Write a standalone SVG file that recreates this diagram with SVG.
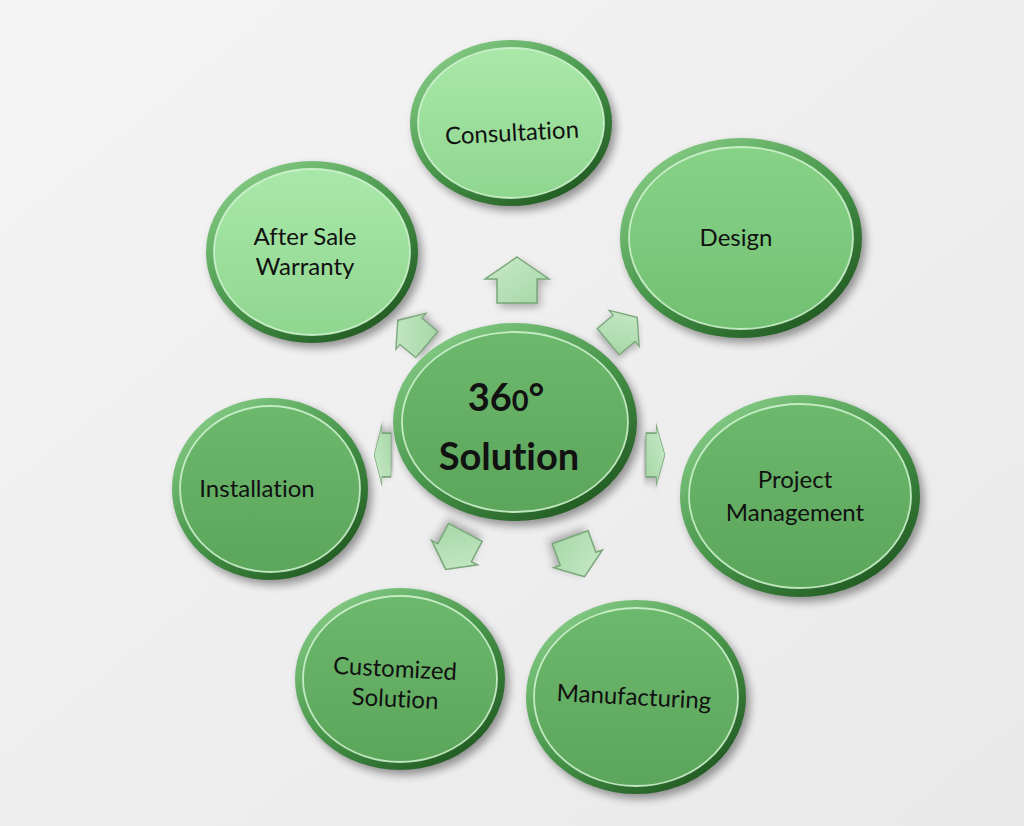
<svg xmlns="http://www.w3.org/2000/svg" width="1024" height="826" viewBox="0 0 1024 826">
<defs>
<linearGradient id="bg" x1="0" y1="0" x2="1" y2="1">
<stop offset="0" stop-color="#f4f4f4"/><stop offset="1" stop-color="#e9e9e9"/>
</linearGradient>
<linearGradient id="ring" x1="0.15" y1="0.05" x2="0.85" y2="0.95">
<stop offset="0" stop-color="#86cc86"/><stop offset="0.5" stop-color="#47964a"/><stop offset="1" stop-color="#1f561f"/>
</linearGradient>
<linearGradient id="fillLight" x1="0" y1="0" x2="0" y2="1">
<stop offset="0" stop-color="#a9e8a9"/><stop offset="1" stop-color="#8fd68f"/>
</linearGradient>
<linearGradient id="fillMid" x1="0" y1="0" x2="0" y2="1">
<stop offset="0" stop-color="#88d288"/><stop offset="1" stop-color="#72c072"/>
</linearGradient>
<linearGradient id="fillDark" x1="0" y1="0" x2="0" y2="1">
<stop offset="0" stop-color="#6cb86c"/><stop offset="1" stop-color="#5ca65c"/>
</linearGradient>
<linearGradient id="arrowFill" x1="0" y1="0" x2="1" y2="1">
<stop offset="0" stop-color="#c9eac9"/><stop offset="1" stop-color="#a6d6a6"/>
</linearGradient>
<filter id="shadow" x="-20%" y="-20%" width="140%" height="140%">
<feGaussianBlur stdDeviation="4"/>
</filter>
<path id="houseBig" d="M0,-23 L32,-1 L20,-1 L20,23 L-20,23 L-20,-1 L-32,-1 Z"/>
<path id="house" d="M0,-22 L26,-3 L19,-3 L19,20 L-19,20 L-19,-3 L-26,-3 Z"/>
</defs>
<style>
.sh{fill:#000;opacity:.38;filter:url(#shadow)}
.ring{fill:url(#ring)}
.hl{stroke:#d4f5d4;stroke-width:1.8;stroke-opacity:.85}
.lbl{font-family:Lato,"Open Sans",sans-serif;font-size:24px;fill:#111;text-anchor:middle;font-variant-ligatures:none}
.big{font-family:Lato,"Open Sans",sans-serif;font-size:38px;font-weight:bold;fill:#111;text-anchor:middle;font-variant-ligatures:none}
.arr{fill:url(#arrowFill);stroke:#7aa87a;stroke-width:1.5;stroke-linejoin:miter}
.arrsh{fill:#000;opacity:.3;filter:url(#shadow)}
</style>
<rect width="1024" height="826" fill="url(#bg)"/>

<g id="connectors">
<g transform="translate(517,280)"><use href="#houseBig" class="arrsh" transform="translate(3,4)"/><use href="#houseBig" class="arr"/></g>
<g transform="translate(622,330) rotate(50) scale(0.9)"><use href="#house" class="arrsh" transform="translate(3,4)"/><use href="#house" class="arr"/></g>
<g transform="translate(655,455) scale(0.45,1.15) rotate(90)"><use href="#house" class="arrsh" transform="translate(3,4)"/><use href="#house" class="arr"/></g>
<g transform="translate(383,455) scale(0.4,1.15) rotate(-90)"><use href="#house" class="arrsh" transform="translate(3,4)"/><use href="#house" class="arr"/></g>
<g transform="translate(413,333) rotate(-50) scale(0.9)"><use href="#house" class="arrsh" transform="translate(3,4)"/><use href="#house" class="arr"/></g>
<g transform="translate(456,550) rotate(208)"><use href="#house" class="arrsh" transform="translate(3,4)"/><use href="#house" class="arr"/></g>
<g transform="translate(577,556) rotate(160)"><use href="#house" class="arrsh" transform="translate(3,4)"/><use href="#house" class="arr"/></g>
</g>

<g id="consultation">
<ellipse cx="515" cy="128" rx="101" ry="83" class="sh"/>
<ellipse cx="511" cy="123" rx="101" ry="83" class="ring"/>
<ellipse cx="511" cy="123" rx="93" ry="75" fill="url(#fillLight)" class="hl"/>
<text x="512" y="141" class="lbl" transform="rotate(-3 512 133)">Consultation</text>
</g>

<g id="design">
<ellipse cx="745" cy="243" rx="121" ry="100" class="sh"/>
<ellipse cx="741" cy="238" rx="121" ry="100" class="ring"/>
<ellipse cx="741" cy="238" rx="112" ry="91" fill="url(#fillMid)" class="hl"/>
<text x="736" y="246" class="lbl">Design</text>
</g>

<g id="after-sale">
<ellipse cx="316" cy="257" rx="106" ry="91" class="sh"/>
<ellipse cx="312" cy="252" rx="106" ry="91" class="ring"/>
<ellipse cx="312" cy="252" rx="98" ry="83" fill="url(#fillLight)" class="hl"/>
<text x="305" y="245" class="lbl">After Sale</text>
<text x="305" y="275" class="lbl">Warranty</text>
</g>

<g id="center">
<ellipse cx="519" cy="427" rx="122" ry="99" class="sh"/>
<ellipse cx="515" cy="422" rx="122" ry="99" class="ring"/>
<ellipse cx="515" cy="422" rx="113" ry="90" fill="url(#fillDark)" class="hl"/>
<text x="506" y="411" class="big">36<tspan font-size="29">0</tspan>°</text>
<text x="509" y="470" class="big">Solution</text>
</g>

<g id="installation">
<ellipse cx="274" cy="494" rx="98" ry="91" class="sh"/>
<ellipse cx="270" cy="489" rx="98" ry="91" class="ring"/>
<ellipse cx="270" cy="489" rx="90" ry="83" fill="url(#fillDark)" class="hl"/>
<text x="257" y="497" class="lbl">Installation</text>
</g>

<g id="project-management">
<ellipse cx="804" cy="501" rx="120" ry="101" class="sh"/>
<ellipse cx="800" cy="496" rx="120" ry="101" class="ring"/>
<ellipse cx="800" cy="496" rx="111" ry="92" fill="url(#fillDark)" class="hl"/>
<text x="795" y="488" class="lbl">Project</text>
<text x="795" y="521" class="lbl">Management</text>
</g>

<g id="customized-solution">
<ellipse cx="404" cy="684" rx="105" ry="91" class="sh"/>
<ellipse cx="400" cy="679" rx="105" ry="91" class="ring"/>
<ellipse cx="400" cy="679" rx="97" ry="83" fill="url(#fillDark)" class="hl"/>
<text x="395" y="677" class="lbl" transform="rotate(3 395 670)">Customized</text>
<text x="395" y="707" class="lbl" transform="rotate(3 395 700)">Solution</text>
</g>

<g id="manufacturing">
<ellipse cx="640" cy="702" rx="110" ry="97" class="sh"/>
<ellipse cx="636" cy="697" rx="110" ry="97" class="ring"/>
<ellipse cx="636" cy="697" rx="102" ry="89" fill="url(#fillDark)" class="hl"/>
<text x="634" y="705" class="lbl" transform="rotate(3 634 697)">Manufacturing</text>
</g>
</svg>
